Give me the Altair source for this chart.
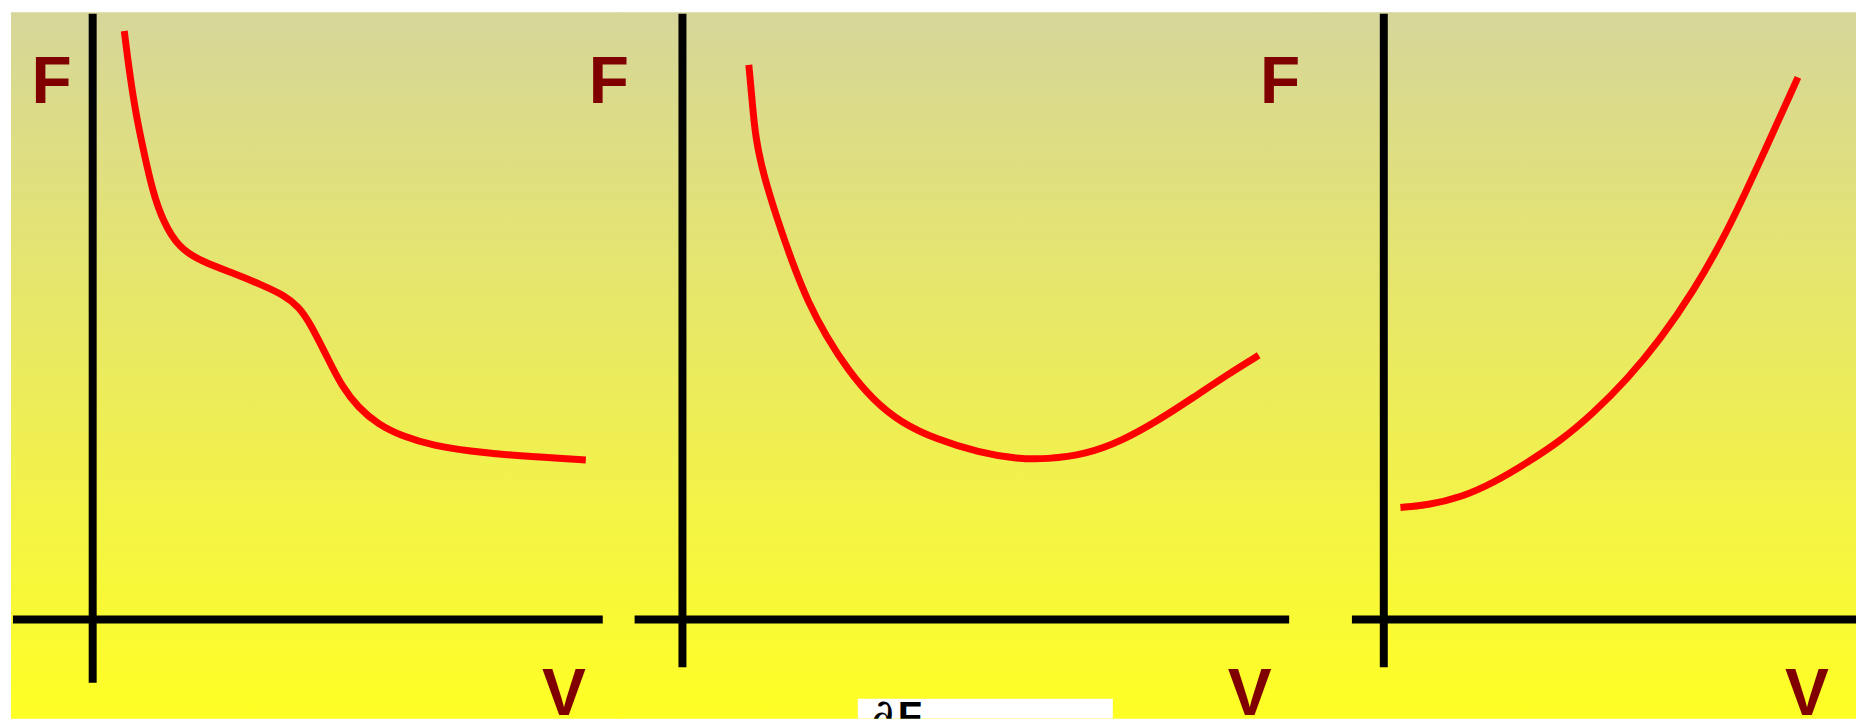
import altair as alt
import pandas as pd

# ---------------- data (V and F in arbitrary units, origin at the axes crossing) -------------
# Panel 1: F falls steeply, shoulder, then flattens
P1_V = [0.317, 0.367, 0.433, 0.517, 0.600, 0.700, 0.867, 1.100, 1.433, 1.700, 1.917,
        2.067, 2.183, 2.367, 2.500, 2.667, 2.867, 3.100, 3.433, 3.767, 4.267, 4.950]
P1_F = [5.908, 5.508, 5.075, 4.675, 4.308, 4.008, 3.725, 3.592, 3.468, 3.358, 3.258,
        3.142, 2.975, 2.608, 2.342, 2.125, 1.958, 1.842, 1.742, 1.692, 1.642, 1.602]

# Panel 2: F with a minimum
P2_V = [0.666, 0.694, 0.730, 0.819, 0.944, 1.105, 1.266, 1.444, 1.659, 1.909, 2.194,
        2.551, 2.980, 3.337, 3.659, 4.051, 4.409, 4.766, 5.123, 5.480, 5.784]
P2_F = [5.568, 5.275, 4.842, 4.442, 4.042, 3.575, 3.175, 2.842, 2.508, 2.208, 1.975,
        1.808, 1.675, 1.615, 1.608, 1.658, 1.792, 1.992, 2.225, 2.465, 2.652]

# Panel 3: F rising
P3_V = [0.167, 0.440, 0.773, 1.107, 1.440, 1.773, 2.107, 2.440, 2.773, 3.107, 3.440,
        3.773, 4.157]
P3_F = [1.125, 1.148, 1.225, 1.375, 1.575, 1.792, 2.075, 2.408, 2.808, 3.292, 3.875,
        4.592, 5.442]

# axis extents: horizontal axis [V from, V to]; vertical axis [F from, F to]
H_AXIS = [[-0.80, 5.12], [-0.48, 6.09], [-0.32, 4.74]]
V_AXIS = [[-0.635, 6.08], [-0.48, 6.08], [-0.48, 6.08]]

# axis letter labels: (V, F) positions
F_LABEL_POS = [[-0.412, 5.185], [-0.738, 5.185], [-1.041, 5.185]]
V_LABEL_POS = [[4.729, -0.955], [5.693, -0.955], [4.248, -0.955]]
AXIS_TEXT = ["F", "V"]

# partially visible "∂F" caption box (panel 2 coordinates)
BOX_V = [1.76, 4.32]
BOX_F = [-0.995, -0.795]
CAPTION_PARTS = ["∂", "F"]
CAPTION_V = [2.01, 2.283]
CAPTION_F = [-1.111, -1.111]

# panel scale domains
X_DOMAINS = [[-0.82, 5.28], [-0.64, 6.40], [-0.64, 4.74]]
Y_DOMAIN = [-0.995, 6.095]

WIDTHS = [610, 704, 538]
HEIGHT = 709

CURVES = [(P1_V, P1_F), (P2_V, P2_F), (P3_V, P3_F)]

grad = alt.LinearGradient(
    gradient="linear",
    stops=[alt.GradientStop(color="#d6d69a", offset=0),
           alt.GradientStop(color="#ffff24", offset=1)],
    x1=0, x2=0, y1=0, y2=1,
)


def panel(i):
    xs = alt.Scale(domain=X_DOMAINS[i], nice=False, zero=False)
    ys = alt.Scale(domain=Y_DOMAIN, nice=False, zero=False)
    X = lambda f: alt.X(f, scale=xs, axis=None)
    Y = lambda f: alt.Y(f, scale=ys, axis=None)

    left = 0 if i == 0 else -1
    right = WIDTHS[i] if i == 2 else WIDTHS[i] + 1
    bg = alt.Chart(pd.DataFrame({"k": [0]})).mark_rect(fill=grad, strokeWidth=0).encode(
        x=alt.value(left), x2=alt.value(right), y=alt.value(0), y2=alt.value(HEIGHT)
    )

    hax = alt.Chart(pd.DataFrame({"v": [H_AXIS[i][0]], "v2": [H_AXIS[i][1]], "f": [0.0]})).mark_rule(
        color="black", strokeWidth=8, strokeCap="butt"
    ).encode(x=X("v:Q"), x2="v2:Q", y=Y("f:Q"))

    vax = alt.Chart(pd.DataFrame({"v": [0.0], "f": [V_AXIS[i][0]], "f2": [V_AXIS[i][1]]})).mark_rule(
        color="black", strokeWidth=8, strokeCap="butt"
    ).encode(x=X("v:Q"), y=Y("f:Q"), y2="f2:Q")

    cv, cf = CURVES[i]
    curve = alt.Chart(pd.DataFrame({"v": cv, "f": cf})).mark_line(
        color="#ff0000", strokeWidth=7, strokeCap="butt", interpolate="basis"
    ).encode(x=X("v:Q"), y=Y("f:Q"))

    flab = alt.Chart(pd.DataFrame({"v": [F_LABEL_POS[i][0]], "f": [F_LABEL_POS[i][1]],
                                   "t": [AXIS_TEXT[0]]})).mark_text(
        font="Liberation Sans", fontWeight="bold", fontSize=66, color="#800000",
        align="center", baseline="alphabetic"
    ).encode(x=X("v:Q"), y=Y("f:Q"), text="t:N")

    vlab = alt.Chart(pd.DataFrame({"v": [V_LABEL_POS[i][0]], "f": [V_LABEL_POS[i][1]],
                                   "t": [AXIS_TEXT[1]]})).mark_text(
        font="Liberation Sans", fontWeight="bold", fontSize=66, color="#800000",
        align="center", baseline="alphabetic", clip=True
    ).encode(x=X("v:Q"), y=Y("f:Q"), text="t:N")

    layers = [bg, hax, vax, curve, flab, vlab]

    if i == 1:
        box = alt.Chart(pd.DataFrame({"v": [BOX_V[0]], "v2": [BOX_V[1]],
                                      "f": [BOX_F[0]], "f2": [BOX_F[1]]})).mark_rect(
            color="white", clip=True
        ).encode(x=X("v:Q"), x2="v2:Q", y=Y("f:Q"), y2="f2:Q")
        d = alt.Chart(pd.DataFrame({"v": [CAPTION_V[0]], "f": [CAPTION_F[0]],
                                    "t": [CAPTION_PARTS[0]]})).mark_text(
            font="DejaVu Serif", fontStyle="italic", fontSize=44, color="black",
            align="center", baseline="alphabetic", clip=True
        ).encode(x=X("v:Q"), y=Y("f:Q"), text="t:N")
        fcap = alt.Chart(pd.DataFrame({"v": [CAPTION_V[1]], "f": [CAPTION_F[1]],
                                       "t": [CAPTION_PARTS[1]]})).mark_text(
            font="Liberation Sans", fontWeight="bold", fontSize=40, color="black",
            align="center", baseline="alphabetic", clip=True
        ).encode(x=X("v:Q"), y=Y("f:Q"), text="t:N")
        layers += [box, d, fcap]

    return alt.layer(*layers).properties(width=WIDTHS[i], height=HEIGHT)


chart = alt.hconcat(panel(0), panel(1), panel(2), spacing=0, bounds="flush").resolve_scale(
    x="independent", y="independent"
).properties(padding=0, background="white").configure_view(stroke=None)

chart.save("out.html", embed_options={"renderer": "svg", "actions": False})
